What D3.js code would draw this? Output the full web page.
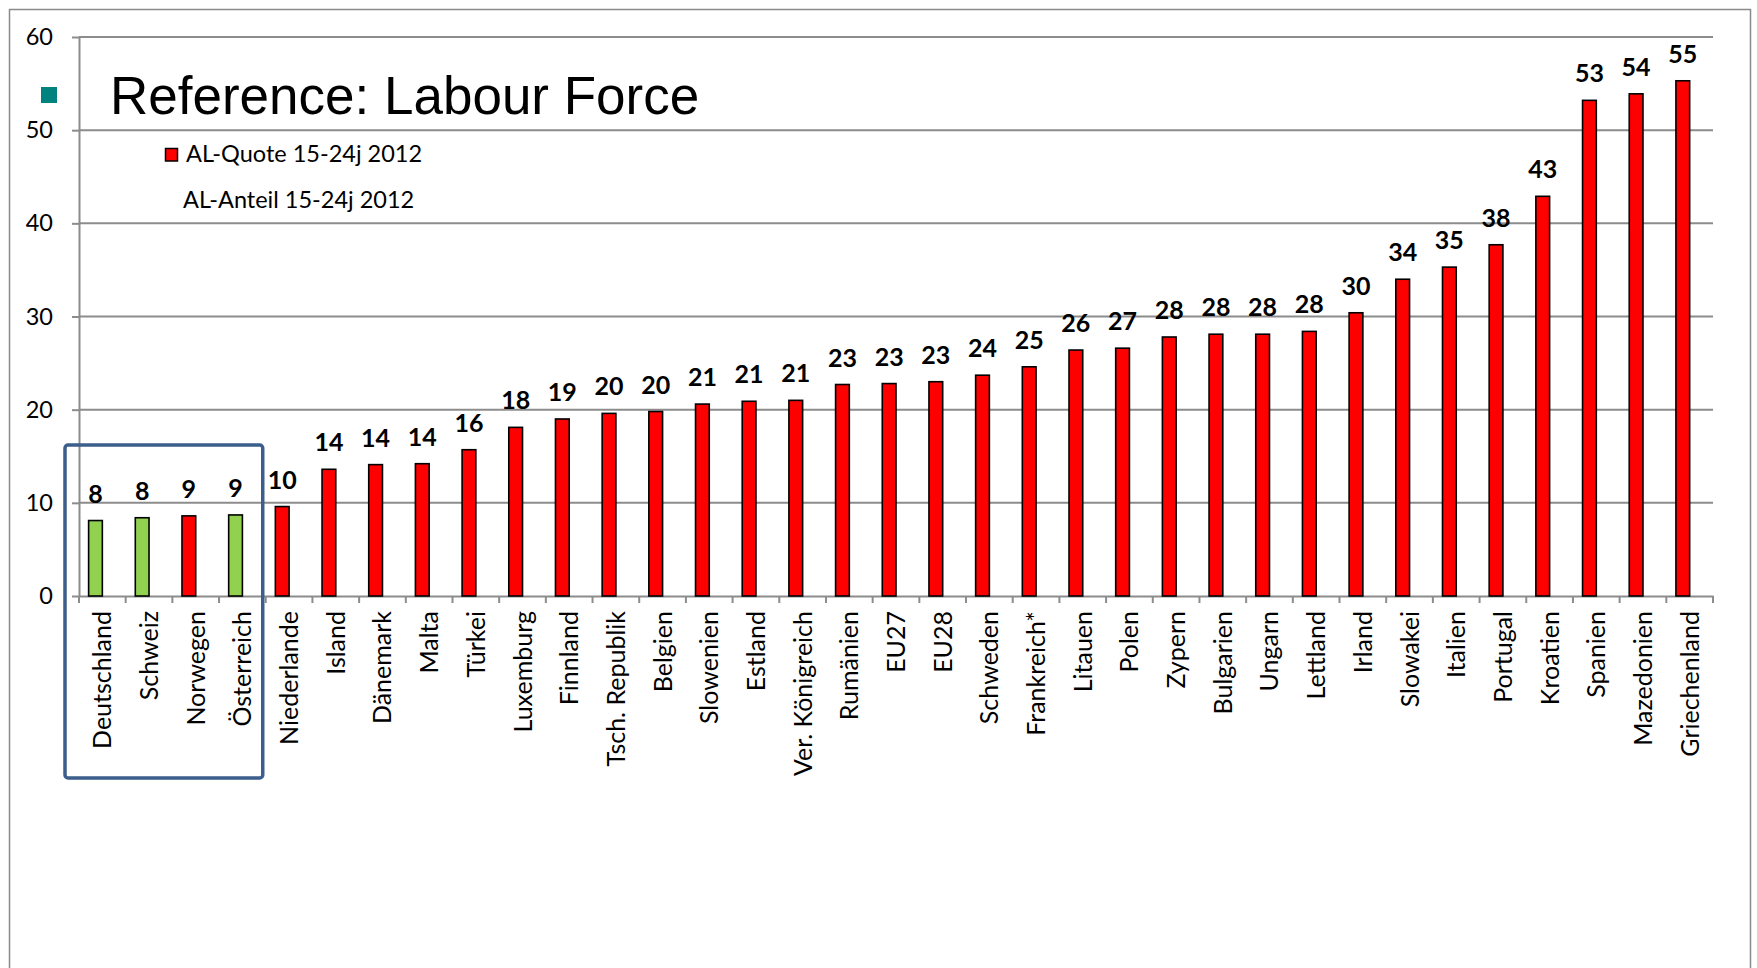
<!DOCTYPE html>
<html>
<head>
<meta charset="utf-8">
<script src="https://cdn.jsdelivr.net/npm/d3@7/dist/d3.min.js"></script>
<style>
  html, body { margin: 0; padding: 0; background: #fff; }
  svg { display: block; }
</style>
</head>
<body>
<svg id="chart" width="1757" height="968"></svg>
<script>
// ---- data ----
const categories = ["Deutschland","Schweiz","Norwegen","Österreich","Niederlande","Island","Dänemark","Malta","Türkei","Luxemburg","Finnland","Tsch. Republik","Belgien","Slowenien","Estland","Ver. Königreich","Rumänien","EU27","EU28","Schweden","Frankreich*","Litauen","Polen","Zypern","Bulgarien","Ungarn","Lettland","Irland","Slowakei","Italien","Portugal","Kroatien","Spanien","Mazedonien","Griechenland"];
const alQuote = [8.1,8.4,8.6,8.7,9.6,13.6,14.1,14.2,15.7,18.1,19.0,19.6,19.8,20.6,20.9,21.0,22.7,22.8,23.0,23.7,24.6,26.4,26.6,27.8,28.1,28.1,28.4,30.4,34.0,35.3,37.7,42.9,53.2,53.9,55.3];
const highlighted = ["Deutschland","Schweiz","Österreich"];
const seriesNames = ["AL-Quote 15-24j 2012","AL-Anteil 15-24j 2012"];
const yTicks = [0,10,20,30,40,50,60];
const titleText = "Reference: Labour Force";

// ---- layout ----
const svg = d3.select("#chart");
const font = "Lato, 'Open Sans', sans-serif";
const gridColor = "#8c8c8c";

const x = d3.scaleBand().domain(categories).range([79, 1713]).padding(0);
const xs = d3.scaleBand().domain(seriesNames).range([0, x.bandwidth()]).paddingInner(0).paddingOuter(0.7);
const y = d3.scaleLinear().domain([0, 60]).range([596, 37]);

// outer frame
svg.append("rect").attr("x", 9.5).attr("y", 9.5).attr("width", 1741).attr("height", 1000)
  .attr("fill", "none").attr("stroke", "#8a8a8a").attr("stroke-width", 1.5);

// y gridlines + axis
const yAxis = d3.axisLeft(y).tickValues(yTicks).tickSize(7).tickSizeOuter(0).tickPadding(19).tickFormat(d3.format("d"));
const gy = svg.append("g").attr("transform", "translate(79,0)").call(yAxis);
gy.select(".domain").attr("stroke", gridColor).attr("stroke-width", 2);
gy.selectAll(".tick line").attr("stroke", gridColor).attr("stroke-width", 2);
gy.selectAll(".tick text").attr("font-family", font).attr("font-size", 23.5).attr("fill", "#000");
svg.append("g").selectAll("line").data(yTicks.filter(d => d > 0)).join("line")
  .attr("x1", 79).attr("x2", 1713).attr("y1", d => y(d)).attr("y2", d => y(d))
  .attr("stroke", gridColor).attr("stroke-width", 2);

// x axis
const xAxis = d3.axisBottom(x).tickSize(0).tickFormat("");
const gx = svg.append("g").attr("transform", `translate(0,${y(0)})`).call(xAxis);
gx.select(".domain").attr("stroke", gridColor).attr("stroke-width", 2);
// tick marks at band boundaries
const bounds = categories.map(c => x(c)).concat([x(categories[categories.length - 1]) + x.bandwidth()]);
gx.selectAll("line.bnd").data(bounds).join("line").attr("class", "bnd")
  .attr("x1", d => d).attr("x2", d => d).attr("y1", 0).attr("y2", 7)
  .attr("stroke", gridColor).attr("stroke-width", 2);
// category labels
svg.append("g").selectAll("text").data(categories).join("text")
  .attr("transform", d => `translate(${x(d) + x.bandwidth() / 2},${y(0) + 15}) rotate(-90)`)
  .attr("text-anchor", "end").attr("dy", "0.36em")
  .attr("font-family", font).attr("font-size", 25).attr("fill", "#000")
  .text(d => d);

// bars
const barData = categories.map((c, i) => ({ c, v: alQuote[i] }));
svg.append("g").selectAll("rect").data(barData).join("rect")
  .attr("x", d => x(d.c) + xs(seriesNames[0]))
  .attr("y", d => y(d.v))
  .attr("width", xs.bandwidth())
  .attr("height", d => y(0) - y(d.v))
  .attr("fill", d => highlighted.includes(d.c) ? "#92D050" : "#FF0000")
  .attr("stroke", "#000").attr("stroke-width", 1.6);

// value labels
svg.append("g").selectAll("text").data(barData).join("text")
  .attr("x", d => x(d.c) + xs(seriesNames[0]) + xs.bandwidth() / 2)
  .attr("y", d => y(d.v) - 18)
  .attr("text-anchor", "middle")
  .attr("font-family", font).attr("font-weight", "bold").attr("font-size", 25).attr("fill", "#000")
  .text(d => d3.format(".0f")(d.v));

// highlight box around first four categories
const boxL = x(categories[0]) - 14;
const boxR = x(categories[3]) + x.bandwidth() - 3;
svg.append("rect").attr("x", boxL).attr("y", y(16.2)).attr("width", boxR - boxL).attr("height", 778 - y(16.2))
  .attr("rx", 3).attr("fill", "none").attr("stroke", "#3B5E8C").attr("stroke-width", 3.5);

// title with teal bullet
svg.append("rect").attr("x", 41).attr("y", 87).attr("width", 16).attr("height", 16).attr("fill", "#00827F");
svg.append("text").attr("x", 110).attr("y", 114)
  .attr("font-family", "'Liberation Sans', Arial, sans-serif").attr("font-size", 53).attr("fill", "#000")
  .text(titleText);

// legend
svg.append("rect").attr("x", 165.5).attr("y", 148.5).attr("width", 12).attr("height", 12.5)
  .attr("fill", "#FF0000").attr("stroke", "#000").attr("stroke-width", 1.5);
svg.append("text").attr("x", 186).attr("y", 162).attr("font-family", font).attr("font-size", 23.5).attr("fill", "#000").text(seriesNames[0]);
svg.append("text").attr("x", 183).attr("y", 208).attr("font-family", font).attr("font-size", 23.5).attr("fill", "#000").text(seriesNames[1]);
</script>
</body>
</html>
